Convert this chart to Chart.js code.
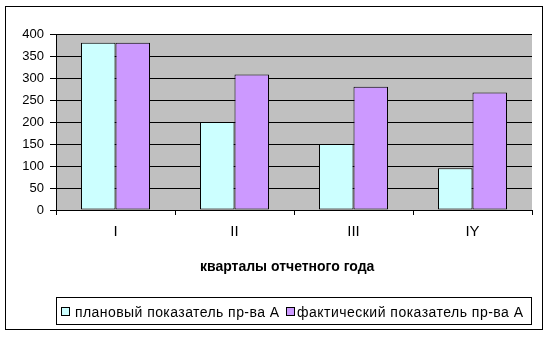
<!DOCTYPE html>
<html><head><meta charset="utf-8">
<script src="https://cdn.jsdelivr.net/npm/chart.js@4.4.1/dist/chart.umd.min.js"></script>
<style>html,body{margin:0;padding:0;background:#fff}#wrap{width:549px;height:337px}</style>
</head><body><div id="wrap"><canvas id="c" width="549" height="337"></canvas></div>
<script>
const categories = ['I', 'II', 'III', 'IY'];
const planValues = [380, 200, 150, 95];
const factValues = [380, 308, 280, 267];
const seriesNames = ['плановый показатель пр-ва А', 'фактический показатель пр-ва А'];
const seriesColors = ['#CCFFFF', '#CC99FF'];
const axisTitle = 'кварталы отчетного года';
const yMin = 0, yMax = 400, yStep = 50;

const FONT = '"Liberation Sans", Arial, sans-serif';

const decor = {
  id: 'decor',
  beforeDraw(chart) {
    const {ctx, chartArea: a} = chart;
    ctx.save();
    ctx.fillStyle = '#fff';
    ctx.fillRect(0, 0, chart.width, chart.height);
    ctx.fillStyle = '#C0C0C0';
    ctx.fillRect(a.left, a.top, a.right - a.left, a.bottom - a.top);
    ctx.restore();
  },
  afterDraw(chart) {
    const ctx = chart.ctx;
    ctx.save();
    ctx.strokeStyle = '#000';
    ctx.lineWidth = 1;
    // outer chart border
    ctx.strokeRect(5.5, 6.5, 537, 323);
    // axis title
    ctx.fillStyle = '#000';
    ctx.font = 'bold 14px ' + FONT;
    ctx.textBaseline = 'alphabetic';
    ctx.textAlign = 'left';
    ctx.fillText(axisTitle, 200, 271);
    // legend
    ctx.strokeRect(56.5, 297.5, 475, 27);
    const items = [
      {sx: 61.5, tx: 75, target: 204},
      {sx: 286.5, tx: 297, target: 226}
    ];
    ctx.font = '14px ' + FONT;
    items.forEach((it, i) => {
      ctx.fillStyle = seriesColors[i];
      ctx.fillRect(it.sx, 307.5, 8, 8);
      ctx.strokeStyle = '#000';
      ctx.strokeRect(it.sx, 307.5, 8, 8);
      ctx.fillStyle = '#000';
      const txt = seriesNames[i];
      const w = ctx.measureText(txt).width;
      const ls = Math.max(-1, Math.min(1.5, (it.target - w) / (txt.length - 1)));
      ctx.letterSpacing = ls.toFixed(2) + 'px';
      ctx.fillText(txt, it.tx, 316.5);
      ctx.letterSpacing = '0px';
    });
    ctx.restore();
  }
};

new Chart(document.getElementById('c'), {
  type: 'bar',
  data: {
    labels: categories,
    datasets: [
      {label: seriesNames[0], data: planValues, backgroundColor: seriesColors[0], borderColor: '#000', borderWidth: 1, borderSkipped: false},
      {label: seriesNames[1], data: factValues, backgroundColor: seriesColors[1], borderColor: '#000', borderWidth: 1, borderSkipped: false}
    ]
  },
  options: {
    responsive: false,
    animation: false,
    devicePixelRatio: 1,
    layout: {padding: {top: 34, right: 17, bottom: 87, left: 0}},
    datasets: {bar: {categoryPercentage: 0.58, barPercentage: 1.0}},
    plugins: {legend: {display: false}, tooltip: {enabled: false}},
    scales: {
      x: {
        grid: {offset: true, drawOnChartArea: false, drawTicks: true, tickLength: 5, color: '#000', lineWidth: 1},
        border: {display: true, color: '#000', width: 1},
        ticks: {color: '#000', font: {family: FONT, size: 15}, padding: 8, maxRotation: 0},
        afterFit(s) { s.height = 40; }
      },
      y: {
        min: yMin, max: yMax,
        grid: {color: '#000', lineWidth: 1, drawTicks: true, tickLength: 6},
        border: {display: true, color: '#000', width: 1},
        ticks: {stepSize: yStep, color: '#000', font: {family: FONT, size: 13}, padding: 6},
        afterFit(s) { s.width = 56; }
      }
    }
  },
  plugins: [decor]
});
</script>
</body></html>
